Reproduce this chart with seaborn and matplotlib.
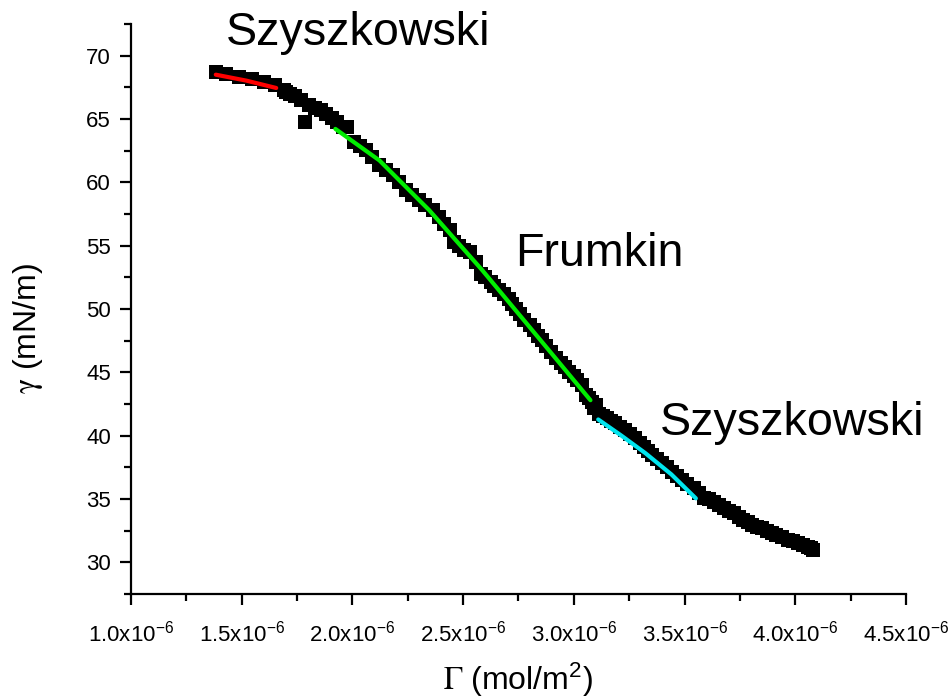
import matplotlib
matplotlib.use("Agg")
import matplotlib.pyplot as plt
import matplotlib.ticker as mticker
import seaborn as sns
import pandas as pd

# ---- data (surface excess in units of 1e-6 mol/m^2, surface tension in mN/m) ----
gamma_surf_e6 = [1.386, 1.430, 1.488, 1.545, 1.600, 1.650, 1.691, 1.700, 1.720, 1.743,
                 1.770, 1.788, 1.803, 1.830, 1.856, 1.880, 1.909, 1.930, 1.956, 1.975,
                 2.009, 2.035, 2.062, 2.090, 2.122, 2.150, 2.182, 2.210, 2.242, 2.270,
                 2.302, 2.330, 2.362, 2.390, 2.414, 2.440, 2.460, 2.480, 2.505, 2.530,
                 2.557, 2.580, 2.600, 2.625, 2.640, 2.662, 2.685, 2.707, 2.720, 2.737,
                 2.755, 2.775, 2.800, 2.820, 2.840, 2.857, 2.875, 2.895, 2.920, 2.940,
                 2.960, 2.977, 3.000, 3.015, 3.035, 3.055, 3.070, 3.082, 3.090, 3.100,
                 3.113, 3.130, 3.150, 3.170, 3.188, 3.210, 3.233, 3.255, 3.278, 3.300,
                 3.315, 3.335, 3.353, 3.375, 3.398, 3.420, 3.443, 3.465, 3.488, 3.510,
                 3.541, 3.565, 3.590, 3.610, 3.631, 3.655, 3.676, 3.700, 3.721, 3.745,
                 3.766, 3.785, 3.803, 3.825, 3.848, 3.870, 3.893, 3.915, 3.938, 3.968,
                 3.990, 4.014, 4.035, 4.059, 4.070, 4.081]
tension = [68.74, 68.55, 68.35, 68.15, 67.95, 67.65, 67.30, 67.10, 66.95, 66.79,
           66.50, 64.75, 66.14, 65.90, 65.72, 65.40, 65.06, 64.80, 64.35, 64.40,
           63.17, 62.90, 62.53, 62.00, 61.35, 61.00, 60.56, 60.00, 59.38, 59.00,
           58.59, 58.20, 57.80, 57.30, 56.75, 56.20, 55.30, 55.00, 54.63, 54.50,
           53.71, 52.79, 52.50, 52.13, 51.80, 51.47, 51.20, 50.82, 50.40, 50.03,
           49.60, 49.11, 48.70, 48.33, 47.90, 47.54, 47.10, 46.62, 46.10, 45.70,
           45.40, 45.05, 44.70, 44.39, 44.00, 43.20, 43.00, 42.69, 42.15, 42.40,
           41.75, 41.55, 41.36, 41.15, 40.97, 40.70, 40.44, 40.10, 39.78, 39.45,
           39.12, 38.80, 38.47, 38.15, 37.81, 37.50, 37.15, 36.80, 36.50, 36.20,
           35.85, 35.50, 35.10, 35.00, 34.79, 34.50, 34.26, 34.05, 33.87, 33.60,
           33.34, 33.15, 32.95, 32.80, 32.69, 32.50, 32.30, 32.15, 32.03, 31.77,
           31.65, 31.51, 31.40, 31.24, 31.10, 30.98]

# fitted curves
szy1_x = [1.383, 1.521, 1.656]
szy1_y = [68.50, 68.03, 67.45]
frum_x = [1.923, 2.122, 2.347, 2.587, 2.887, 3.075]
frum_y = [64.22, 61.73, 57.80, 53.05, 46.75, 42.80]
szy2_x = [3.110, 3.215, 3.323, 3.440, 3.551]
szy2_y = [41.28, 40.00, 38.62, 36.95, 35.05]

x_ticks_e6 = [1.0, 1.5, 2.0, 2.5, 3.0, 3.5, 4.0, 4.5]
y_ticks = [30, 35, 40, 45, 50, 55, 60, 65, 70]

labels = ["Szyszkowski", "Frumkin", "Szyszkowski"]

E6 = 1e-6

sns.set_style("ticks")
plt.rcParams["font.family"] = ["Liberation Sans", "DejaVu Sans"]
plt.rcParams["mathtext.fontset"] = "stix"
for k in ["text.color", "axes.labelcolor", "xtick.color", "ytick.color"]:
    plt.rcParams[k] = "black"

fig = plt.figure(figsize=(9.49, 6.98), dpi=100)
ax = fig.add_axes([0.138, 0.149, 0.8167, 0.8166])

df = pd.DataFrame({"G": [v * E6 for v in gamma_surf_e6], "T": tension})
sns.scatterplot(data=df, x="G", y="T", marker="s", s=92, color="black",
                linewidth=0, ax=ax, zorder=2)

for xs, ys, col in [(szy1_x, szy1_y, "#ff0000"),
                    (frum_x, frum_y, "#00ee00"),
                    (szy2_x, szy2_y, "#00e5ee")]:
    d = pd.DataFrame({"G": [v * E6 for v in xs], "T": ys})
    sns.lineplot(data=d, x="G", y="T", color=col, lw=3, sort=False,
                 estimator=None, ax=ax, zorder=3)

ax.set_xlim(1.0 * E6, 4.5 * E6)
ax.set_ylim(27.5, 72.5)
ax.xaxis.set_major_locator(mticker.FixedLocator([t * E6 for t in x_ticks_e6]))
ax.xaxis.set_minor_locator(mticker.MultipleLocator(0.25 * E6))
ax.yaxis.set_major_locator(mticker.FixedLocator(y_ticks))
ax.yaxis.set_minor_locator(mticker.MultipleLocator(2.5))
ax.xaxis.set_major_formatter(mticker.FuncFormatter(
    lambda v, p: f"{v / E6:.1f}x10" + r"$\mathregular{^{-6}}$"))
ax.yaxis.set_major_formatter(mticker.FuncFormatter(lambda v, p: f"{v:g}"))

for s in ["top", "right"]:
    ax.spines[s].set_visible(False)
for s in ["left", "bottom"]:
    ax.spines[s].set_linewidth(1.6)
    ax.spines[s].set_color("black")

ax.tick_params(which="major", direction="out", length=8, width=1.6,
               labelsize=16, colors="black")
ax.tick_params(which="minor", direction="out", length=5, width=1.6, colors="black")
ax.tick_params(axis="y", which="major", pad=6.5)
ax.tick_params(axis="x", which="major", pad=11)

ax.set_xlabel(r"$\Gamma$ (mol/m$\mathregular{^2}$)", fontsize=23)
ax.set_ylabel(r"$\mathrm{\gamma}$ (mN/m)", fontsize=23)
ax.xaxis.set_label_coords(0.499, -0.168)
ax.xaxis.label.set_verticalalignment("baseline")
ax.yaxis.set_label_coords(-0.1226, 0.466)
ax.yaxis.label.set_verticalalignment("baseline")

ax.text(1.428 * E6, 70.81, labels[0], fontsize=33.6, ha="left", va="baseline")
ax.text(2.734 * E6, 53.39, labels[1], fontsize=33.6, ha="left", va="baseline")
ax.text(3.387 * E6, 40.07, labels[2], fontsize=33.6, ha="left", va="baseline")

fig.savefig("out.png", dpi=100)
